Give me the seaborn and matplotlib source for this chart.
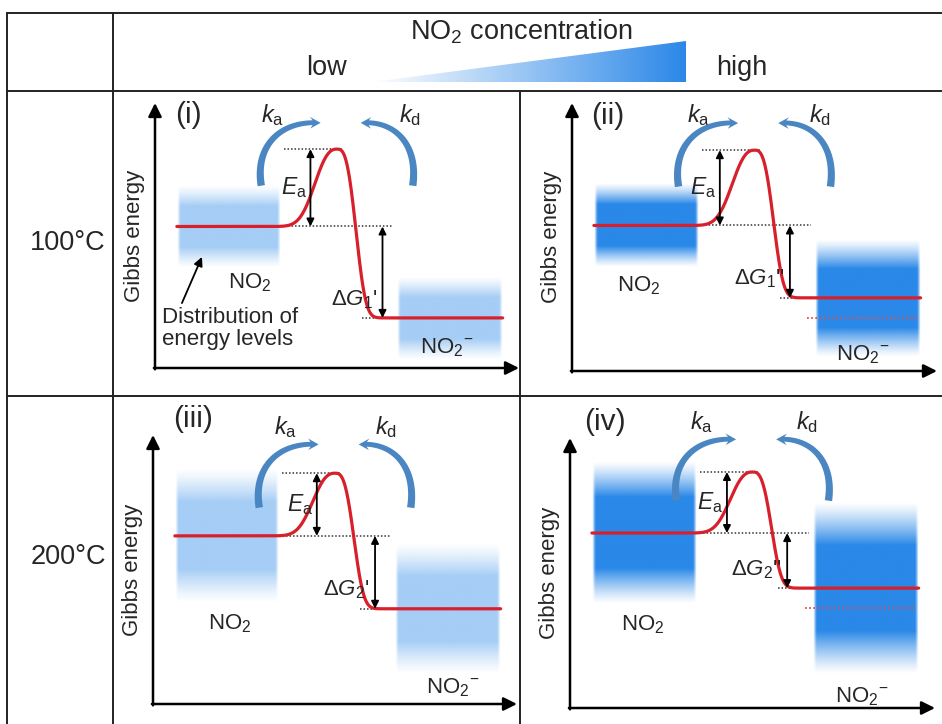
import numpy as np
import matplotlib
matplotlib.use("Agg")
import matplotlib.pyplot as plt
import seaborn as sns
from matplotlib.patches import Polygon
from matplotlib.colors import to_rgb, LinearSegmentedColormap

# ---------------- data (Gibbs-energy levels in panel units, 0-100) ----------------
panel_ids = ["(i)", "(ii)", "(iii)", "(iv)"]
temperatures = ["100°C", "200°C"]
conc_labels = ["low", "high"]
E_no2 = [53.4, 54.3, 62.5, 64.8]          # adsorbed NO2 level
E_ts = [82.6, 82.4, 85.8, 87.4]           # transition state
E_no2m = [18.9, 27.3, 35.4, 44.4]         # NO2- level
E_prev = [np.nan, 19.9, np.nan, 37.0]     # NO2- level at low concentration (dotted)
halfwidth_no2 = [15.5, 15.5, 25.0, 26.3]  # spread of NO2 energy-level distribution
halfwidth_no2m = [15.7, 22.0, 24.3, 31.7] # spread of NO2- energy-level distribution
band_density = [0.42, 1.0, 0.42, 1.0]     # population density of the distribution
dG_labels = [r"$\Delta G_1$'", r"$\Delta G_1$''", r"$\Delta G_2$'", r"$\Delta G_2$''"]

# ---------------- style ----------------
sns.set_theme(style="white")
plt.rcParams["font.family"] = ["Liberation Sans", "DejaVu Sans"]
plt.rcParams["mathtext.fontset"] = "custom"
plt.rcParams["mathtext.rm"] = "Liberation Sans"
plt.rcParams["mathtext.it"] = "Liberation Sans:italic"
plt.rcParams["mathtext.bf"] = "Liberation Sans:bold"

BLUE = "#2a88e8"
ARC_BLUE = "#4a86c2"
RED = "#d7202b"
FW, FH = 942, 724

fig = plt.figure(figsize=(FW / 100, FH / 100), dpi=100)
bg = fig.add_axes([0, 0, 1, 1])
bg.set_xlim(0, FW)
bg.set_ylim(FH, 0)
bg.axis("off")

# ---------------- table frame ----------------
col_edges = [7, 113, 520]
row_edges = [13, 91, 396]
lc = "#222222"
for y in row_edges:
    bg.plot([col_edges[0], FW + 5], [y, y], color=lc, lw=1.4)
bg.plot([col_edges[0]] * 2, [row_edges[0], FH + 5], color=lc, lw=1.4)
bg.plot([col_edges[1]] * 2, [row_edges[0], FH + 5], color=lc, lw=1.4)
bg.plot([col_edges[2]] * 2, [row_edges[1], FH + 5], color=lc, lw=1.4)

# header
bg.text(521, 32, r"NO$_2$ concentration", ha="center", va="center", fontsize=19.5)
bg.text(327, 68, conc_labels[0], ha="center", va="center", fontsize=19.5)
bg.text(742, 68, conc_labels[1], ha="center", va="center", fontsize=19.5)
tri_x0, tri_x1, tri_yb, tri_yt = 372, 686, 82, 41
cmap = LinearSegmentedColormap.from_list("conc", ["#ffffff", "#2c88e8"])
im = bg.imshow(np.linspace(0, 1, 256)[None, :], extent=[tri_x0, tri_x1, tri_yb, tri_yt],
               cmap=cmap, aspect="auto", interpolation="bilinear")
tri = Polygon([[tri_x0, tri_yb], [tri_x1, tri_yb], [tri_x1, tri_yt]], closed=True,
              transform=bg.transData, facecolor="none", edgecolor="none")
bg.add_patch(tri)
im.set_clip_path(tri)
bg.set_xlim(0, FW)
bg.set_ylim(FH, 0)

# row labels
bg.text(68, 243, temperatures[0], ha="center", va="center", fontsize=19.5)
bg.text(68, 557, temperatures[1], ha="center", va="center", fontsize=19.5)

# ---------------- panel layout ----------------
panel_px = [(155, 368, 364, 265), (572, 371, 365, 268), (153, 704, 364, 269), (570, 708, 365, 270)]
id_xy = [(9.3, 95.5), (9.9, 95.1), (11.0, 106.0), (9.6, 106.0)]
k_y = [95.5, 95.5, 103.0, 106.0]
ka_x = [32.4, 34.8, 36.3, 36.0]
kd_x = [70.0, 68.0, 64.0, 65.0]
arc_y = [(68.8, 92.5), (68.8, 92.5), (73.0, 96.5), (76.8, 99.5)]
no2_lab = [(26.0, 32.0), (18.4, 31.7), (21.0, 30.0), (20.0, 30.7)]
no2m_lab = [(80.0, 7.5), (79.7, 6.0), (82.4, 6.0), (80.0, 4.0)]
ea_x = [42.7, 40.5, 45.0, 43.0]
dg_x = [62.5, 59.7, 61.0, 59.5]
band1 = (6.0, 34.5)
band2 = (66.5, 95.5)
x_peak = 50.0


def energy_profile(x, e1, ets, e2):
    left = e1 + (ets - e1) * np.exp(-(np.abs(x - x_peak) / 7.5) ** 2.5)
    right = e2 + (ets - e2) * np.exp(-(np.abs(x - x_peak) / 6.0) ** 3)
    return np.where(x <= x_peak, left, right)


def draw_band(ax, x0, x1, center, half, dens):
    v = np.linspace(-1, 1, 240)
    prof = np.clip(2.0 * (1 - np.abs(v)), 0, 1) ** 1.2
    u = np.linspace(0, 1, 120)
    hprof = np.clip(np.minimum(u, 1 - u) / 0.03, 0, 1)
    rgba = np.zeros((240, 120, 4))
    rgba[..., :3] = to_rgb(BLUE)
    rgba[..., 3] = dens * prof[:, None] * hprof[None, :]
    ax.imshow(rgba, extent=[x0, x1, center - half, center + half], aspect="auto",
              interpolation="bilinear", zorder=1)


def rate_arrow(ax, start, end, W, H):
    """Round (circle-like) tapering arrow with a swept head, built in pixel space."""
    sx, sy = W / 100.0, H / 100.0
    P0 = np.array([start[0] * sx, start[1] * sy])
    P1 = np.array([end[0] * sx, end[1] * sy])
    d = P1 - P0
    C = np.array([P0[0] - 0.19 * d[0], P1[1] + 0.08 * d[1]])   # tangent intersection
    C1 = P0 + 0.58 * (C - P0)
    C2 = P1 + 0.58 * (C - P1)
    t = np.linspace(0, 1, 300)[:, None]
    B = ((1 - t) ** 3) * P0 + 3 * ((1 - t) ** 2) * t * C1 + 3 * (1 - t) * t ** 2 * C2 + t ** 3 * P1
    seg = np.diff(B, axis=0)
    s = np.concatenate([[0], np.cumsum(np.hypot(seg[:, 0], seg[:, 1]))])
    head_len = 8.0
    T = np.gradient(B, axis=0)
    T /= np.hypot(T[:, 0], T[:, 1])[:, None]
    N = np.stack([-T[:, 1], T[:, 0]], axis=1)
    body = s <= s[-1] - head_len
    w = 3.7 + (2.4 - 3.7) * s / (s[-1] - head_len)
    Bb, Nb, wb, Tb = B[body], N[body], w[body], T[body]
    left = Bb + Nb * wb[:, None]
    right = Bb - Nb * wb[:, None]
    base, nb, tb = Bb[-1], Nb[-1], Tb[-1]
    hw = 5.8
    wingL = base + nb * hw - tb * 2.5
    wingR = base - nb * hw - tb * 2.5
    poly = np.vstack([left, wingL, P1, wingR, right[::-1]])
    poly = poly / np.array([sx, sy])
    ax.fill(poly[:, 0], poly[:, 1], color=ARC_BLUE, lw=0, zorder=3, clip_on=False)


dot = (0, (1.0, 1.3))
for k, pid in enumerate(panel_ids):
    L, B, W, H = panel_px[k]
    ax = fig.add_axes([L / FW, (FH - B) / FH, W / FW, H / FH])
    ax.patch.set_alpha(0)

    # energy level distributions
    draw_band(ax, *band1, E_no2[k], halfwidth_no2[k], band_density[k])
    draw_band(ax, *band2, E_no2m[k], halfwidth_no2m[k], band_density[k])

    # reaction coordinate curve
    xs = np.linspace(band1[0], band2[1], 700)
    ys = energy_profile(xs, E_no2[k], E_ts[k], E_no2m[k])
    sns.lineplot(x=xs, y=ys, ax=ax, color=RED, lw=2.3, zorder=5, sort=False,
                 estimator=None, legend=False)

    # dotted guide lines
    ax.plot([35.5, x_peak + 1.5], [E_ts[k]] * 2, color="#333333", lw=1.1, ls=dot, zorder=4)
    ax.plot([band1[1], 65.5], [E_no2[k]] * 2, color="#333333", lw=1.1, ls=dot, zorder=4)
    ax.plot([57.0, band2[0]], [E_no2m[k]] * 2, color="#333333", lw=1.1, ls=dot, zorder=4)
    if not np.isnan(E_prev[k]):
        ax.plot([64.5, band2[1] - 1], [E_prev[k]] * 2, color="#e0504a", lw=1.3, ls=dot, zorder=4)

    # Ea and dG arrows
    ap = dict(arrowstyle="<|-|>", color="black", lw=1.3, mutation_scale=11, shrinkA=0, shrinkB=0)
    ax.annotate("", xy=(ea_x[k], E_ts[k]), xytext=(ea_x[k], E_no2[k]), arrowprops=ap, zorder=6)
    ax.annotate("", xy=(dg_x[k], E_no2[k]), xytext=(dg_x[k], E_no2m[k]), arrowprops=ap, zorder=6)
    ax.text(ea_x[k] - 1.0, (E_no2[k] + E_ts[k]) / 2, r"$E_\mathrm{a}$", ha="right", va="center",
            fontsize=16.5, zorder=7)
    ax.text(dg_x[k] - 1.5, E_no2m[k] + 7.0, dG_labels[k], ha="right", va="center",
            fontsize=16, zorder=7)

    # axes arrows
    axp = dict(arrowstyle="-|>", color="black", lw=1.8, mutation_scale=20, shrinkA=0, shrinkB=0)
    ax.annotate("", xy=(0, 100), xytext=(0, -0.5), arrowprops=axp, annotation_clip=False)
    ax.annotate("", xy=(100, 0), xytext=(-0.3, 0), arrowprops=axp, annotation_clip=False)
    ax.text(-5.5, 50, "Gibbs energy", rotation=90, ha="center", va="center", fontsize=16)

    # labels
    ax.text(*id_xy[k], pid, ha="center", va="center", fontsize=21.5)
    ax.text(ka_x[k], k_y[k], r"$k_\mathrm{a}$", ha="center", va="center", fontsize=17)
    ax.text(kd_x[k], k_y[k], r"$k_\mathrm{d}$", ha="center", va="center", fontsize=17)
    ax.text(*no2_lab[k], r"NO$_2$", ha="center", va="center", fontsize=16, zorder=7)
    ax.text(*no2m_lab[k], r"NO$_2{}^{-}$", ha="center", va="center", fontsize=16, zorder=7)

    # rate arrows (adsorption / desorption)
    y0, y1 = arc_y[k]
    rate_arrow(ax, (29.2, y0), (45.5, y1), W, H)
    rate_arrow(ax, (70.8, y0), (56.5, y1), W, H)

    if k == 0:
        ax.text(2.0, 15.0, "Distribution of\nenergy levels", ha="left", va="center",
                fontsize=16, linespacing=1.05, zorder=7)
        ax.annotate("", xy=(12.9, 41.9), xytext=(7.4, 24.5),
                    arrowprops=dict(arrowstyle="-|>", color="black", lw=1.3,
                                    mutation_scale=13, shrinkA=0, shrinkB=0), zorder=7)

    ax.set_xlim(0, 100)
    ax.set_ylim(0, 100)
    ax.axis("off")

fig.savefig("out.png", dpi=100)
